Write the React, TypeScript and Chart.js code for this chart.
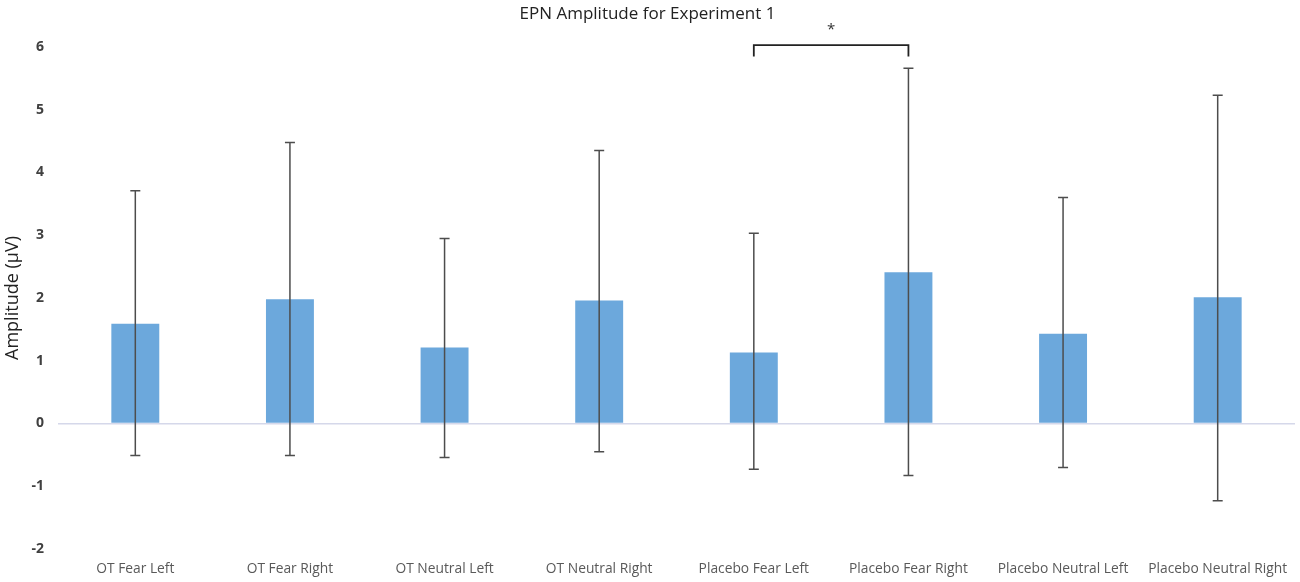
import { Chart, registerables } from "chart.js";
import { useEffect, useRef } from "react";

Chart.register(...registerables);

const categories = [
  "OT Fear Left",
  "OT Fear Right",
  "OT Neutral Left",
  "OT Neutral Right",
  "Placebo Fear Left",
  "Placebo Fear Right",
  "Placebo Neutral Left",
  "Placebo Neutral Right",
];
const amplitude = [1.59, 1.98, 1.21, 1.96, 1.13, 2.41, 1.43, 2.01];
const errorHigh = [3.71, 4.48, 2.95, 4.35, 3.03, 5.66, 3.6, 5.23];
const errorLow = [-0.51, -0.51, -0.54, -0.45, -0.73, -0.83, -0.7, -1.23];
// significance bracket between two bars
const sigPair = [4, 5];
const sigLevel = 6.03;
const sigTickLevel = 5.85;

const errorBarsPlugin = {
  id: "errorBars",
  afterDatasetsDraw(chart: any) {
    const { ctx, scales } = chart;
    const meta = chart.getDatasetMeta(0);
    const y = scales.y;
    ctx.save();
    ctx.strokeStyle = "#4d4d4d";
    ctx.lineWidth = 1.5;
    meta.data.forEach((bar: any, i: number) => {
      const top = y.getPixelForValue(errorHigh[i]);
      const bot = y.getPixelForValue(errorLow[i]);
      ctx.beginPath();
      ctx.moveTo(bar.x, top);
      ctx.lineTo(bar.x, bot);
      ctx.moveTo(bar.x - 5, top);
      ctx.lineTo(bar.x + 5, top);
      ctx.moveTo(bar.x - 5, bot);
      ctx.lineTo(bar.x + 5, bot);
      ctx.stroke();
    });

    // bracket + asterisk
    const a = meta.data[sigPair[0]].x;
    const b = meta.data[sigPair[1]].x;
    const yl = y.getPixelForValue(sigLevel);
    const yt = y.getPixelForValue(sigTickLevel);
    ctx.strokeStyle = "#222";
    ctx.lineWidth = 1.8;
    ctx.beginPath();
    ctx.moveTo(a, yt);
    ctx.lineTo(a, yl);
    ctx.lineTo(b, yl);
    ctx.lineTo(b, yt);
    ctx.stroke();
    ctx.fillStyle = "#333";
    ctx.font = "15px 'Open Sans'";
    ctx.textAlign = "center";
    ctx.textBaseline = "middle";
    ctx.fillText("*", (a + b) / 2, yl - 15);
    ctx.restore();
  },
};

export default function App() {
  const canvasRef = useRef<HTMLCanvasElement | null>(null);
  const chartRef = useRef<Chart | null>(null);

  useEffect(() => {
    document.body.style.margin = "0";
    if (!canvasRef.current) return;
    if (chartRef.current) chartRef.current.destroy();

    chartRef.current = new Chart(canvasRef.current, {
      type: "bar",
      data: {
        labels: categories,
        datasets: [
          {
            label: "Amplitude",
            data: amplitude,
            backgroundColor: "#6ca8dc",
            borderWidth: 0,
            categoryPercentage: 1,
            barPercentage: 0.31,
          },
        ],
      },
      options: {
        animation: false,
        responsive: false,
        maintainAspectRatio: false,
        layout: { padding: { left: 0, right: 5, top: 0, bottom: 0 } },
        plugins: {
          legend: { display: false },
          tooltip: { enabled: false },
          title: {
            display: true,
            text: "EPN Amplitude for Experiment 1",
            color: "#222",
            font: { family: "'Open Sans'", size: 17, weight: "normal" },
            padding: { top: 4, bottom: 22.6 },
          },
        },
        scales: {
          x: {
            grid: { display: false },
            border: { display: false },
            ticks: {
              color: "#595959",
              font: { family: "'Open Sans'", size: 13.8 },
              padding: 4,
              maxRotation: 0,
            },
            afterFit(scale: any) {
              scale.height = 33;
            },
          },
          y: {
            min: -2,
            max: 6,
            border: { display: false },
            grid: {
              color: (c: any) => (c.tick && c.tick.value === 0 ? "#d5d8ea" : "rgba(0,0,0,0)"),
              lineWidth: 1.5,
              drawTicks: false,
            },
            ticks: {
              stepSize: 1,
              color: "#404040",
              font: { family: "'Open Sans'", size: 14, weight: "bold" },
              padding: 14,
            },
            title: {
              display: true,
              text: "Amplitude (µV)",
              color: "#222",
              font: { family: "'Open Sans'", size: 18 },
              padding: { top: 2, bottom: 0 },
            },
            afterFit(scale: any) {
              scale.width = 58;
            },
          },
        },
      } as any,
      plugins: [errorBarsPlugin],
    });

    return () => {
      if (chartRef.current) chartRef.current.destroy();
      chartRef.current = null;
    };
  }, []);

  return (
    <div style={{ width: 1300, height: 582 }}>
      <canvas ref={canvasRef} width={1300} height={582} />
    </div>
  );
}
